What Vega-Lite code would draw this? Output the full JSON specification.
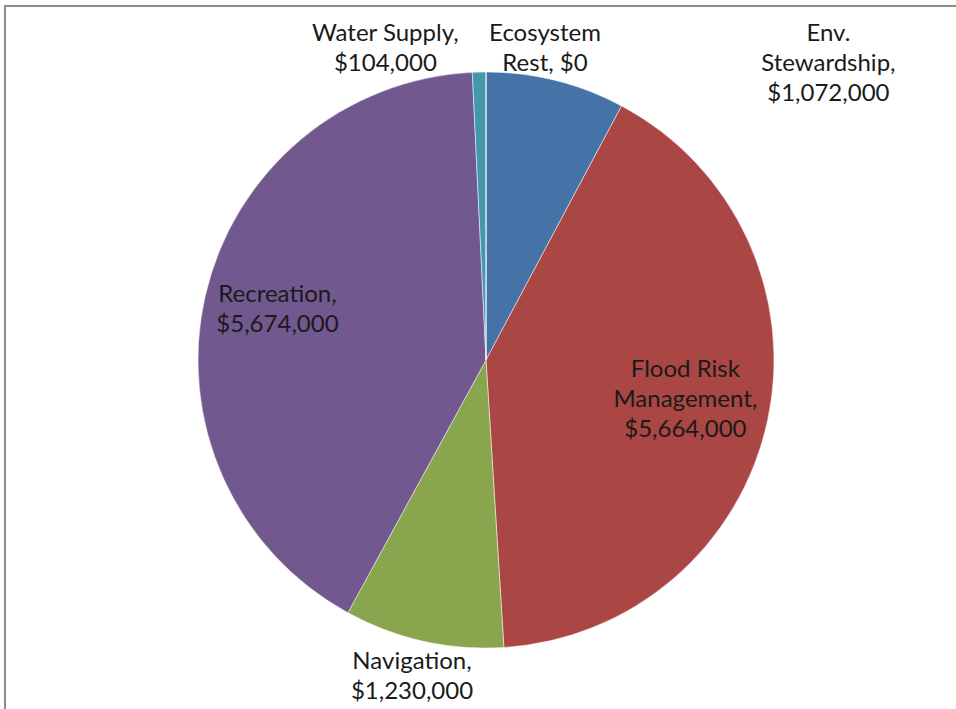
{
  "$schema": "https://vega.github.io/schema/vega-lite/v6.json",
  "width": 962,
  "height": 708,
  "autosize": {"type": "none"},
  "padding": {"left": 5, "top": 6, "right": 0, "bottom": 0},
  "background": "white",
  "view": {"stroke": "#8c8c8c", "strokeWidth": 2, "fill": "white"},
  "config": {"view": {"stroke": "#8c8c8c", "strokeWidth": 2}},
  "data": {
    "values": [
      {"category": "Env. Stewardship", "amount": 1072000, "order": 1, "label": "Env.\nStewardship,\n$1,072,000"},
      {"category": "Flood Risk Management", "amount": 5664000, "order": 2, "label": "Flood Risk\nManagement,\n$5,664,000"},
      {"category": "Navigation", "amount": 1230000, "order": 3, "label": "Navigation,\n$1,230,000"},
      {"category": "Recreation", "amount": 5674000, "order": 4, "label": "Recreation,\n$5,674,000"},
      {"category": "Water Supply", "amount": 104000, "order": 5, "label": "Water Supply,\n$104,000"},
      {"category": "Ecosystem Rest", "amount": 0, "order": 6, "label": "Ecosystem\nRest, $0"}
    ]
  },
  "encoding": {
    "theta": {"field": "amount", "type": "quantitative", "stack": true},
    "order": {"field": "order", "type": "quantitative"}
  },
  "layer": [
    {
      "mark": {"type": "arc", "radius": 288, "stroke": "white", "strokeWidth": 0.5},
      "encoding": {
        "color": {
          "field": "category",
          "type": "nominal",
          "scale": {
            "domain": ["Env. Stewardship", "Flood Risk Management", "Navigation", "Recreation", "Water Supply", "Ecosystem Rest"],
            "range": ["#4572A7", "#AA4643", "#89A54E", "#71588F", "#4198AF", "#DB843D"]
          },
          "legend": null
        }
      }
    },
    {
      "mark": {"type": "text", "radius": 290, "dx": 272, "dy": -45, "font": "Lato", "fontSize": 24, "lineBreak": "\n", "lineHeight": 30, "align": "center", "baseline": "middle", "color": "#1a1a1a"},
      "encoding": {"text": {"condition": {"test": "datum.category === 'Env. Stewardship'", "field": "label"}, "value": ""}}
    },
    {
      "mark": {"type": "text", "radius": 204, "dx": 0, "dy": -33, "font": "Lato", "fontSize": 24, "lineBreak": "\n", "lineHeight": 30, "align": "center", "baseline": "middle", "color": "#1a1a1a"},
      "encoding": {"text": {"condition": {"test": "datum.category === 'Flood Risk Management'", "field": "label"}, "value": ""}}
    },
    {
      "mark": {"type": "text", "radius": 290, "dx": -11, "dy": 19, "font": "Lato", "fontSize": 24, "lineBreak": "\n", "lineHeight": 30, "align": "center", "baseline": "middle", "color": "#1a1a1a"},
      "encoding": {"text": {"condition": {"test": "datum.category === 'Navigation'", "field": "label"}, "value": ""}}
    },
    {
      "mark": {"type": "text", "radius": 214, "dx": 0, "dy": -17, "font": "Lato", "fontSize": 24, "lineBreak": "\n", "lineHeight": 30, "align": "center", "baseline": "middle", "color": "#1a1a1a"},
      "encoding": {"text": {"condition": {"test": "datum.category === 'Recreation'", "field": "label"}, "value": ""}}
    },
    {
      "mark": {"type": "text", "radius": 280, "dx": -94, "dy": -46, "font": "Lato", "fontSize": 24, "lineBreak": "\n", "lineHeight": 30, "align": "center", "baseline": "middle", "color": "#1a1a1a"},
      "encoding": {"text": {"condition": {"test": "datum.category === 'Water Supply'", "field": "label"}, "value": ""}}
    },
    {
      "mark": {"type": "text", "radius": 280, "dx": 59, "dy": -46, "font": "Lato", "fontSize": 24, "lineBreak": "\n", "lineHeight": 30, "align": "center", "baseline": "middle", "color": "#1a1a1a"},
      "encoding": {"text": {"condition": {"test": "datum.category === 'Ecosystem Rest'", "field": "label"}, "value": ""}}
    }
  ]
}
